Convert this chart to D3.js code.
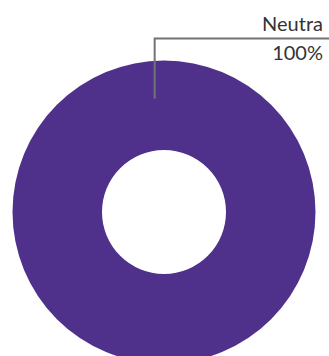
<!DOCTYPE html>
<html>
<head>
<meta charset="utf-8">
<script src="https://cdn.jsdelivr.net/npm/d3@7/dist/d3.min.js"></script>
<style>
  html, body { margin: 0; padding: 0; background: #fff; }
  svg { display: block; }
</style>
</head>
<body>
<svg id="chart" width="329" height="356"></svg>
<script>
// Sentiment share
const categories = ["Neutra"];
const values = [100];
const colors = ["#4f318c"];

const width = 329, height = 356;
const cx = 164, cy = 212;
const outerR = 151.5, innerR = 62;

const svg = d3.select("#chart");
const g = svg.append("g").attr("transform", `translate(${cx},${cy})`);

const pie = d3.pie().sort(null).value(d => d.value);
const arcs = pie(categories.map((c, i) => ({ name: c, value: values[i], color: colors[i] })));

const arc = d3.arc().innerRadius(innerR).outerRadius(outerR);

g.selectAll("path.slice")
  .data(arcs)
  .join("path")
  .attr("class", "slice")
  .attr("d", arc)
  .attr("fill", d => d.data.color);

const total = d3.sum(values);
const pct = d3.format(".0%");

// Connector from inside the ring up to a horizontal rule running to the right edge
const anchorAngle = -0.082;     // radians from 12 o'clock
const anchorR = 114;
const ruleY = 38.5 - cy;

arcs.forEach(d => {
  const ax = Math.sin(anchorAngle) * anchorR;
  const ay = -Math.cos(anchorAngle) * anchorR;
  g.append("path")
    .attr("d", d3.line()([[ax, ay], [ax, ruleY], [width - cx, ruleY]]))
    .attr("fill", "none")
    .attr("stroke", "#737373")
    .attr("stroke-width", 2);

  g.append("text")
    .attr("x", 323 - cx)
    .attr("y", 31 - cy)
    .attr("text-anchor", "end")
    .attr("font-family", "Lato, sans-serif")
    .attr("font-size", 20)
    .attr("fill", "#333")
    .text(d.data.name);

  g.append("text")
    .attr("x", 323 - cx)
    .attr("y", 60 - cy)
    .attr("text-anchor", "end")
    .attr("font-family", "Lato, sans-serif")
    .attr("font-size", 20)
    .attr("fill", "#333")
    .text(pct(d.data.value / total));
});
</script>
</body>
</html>
